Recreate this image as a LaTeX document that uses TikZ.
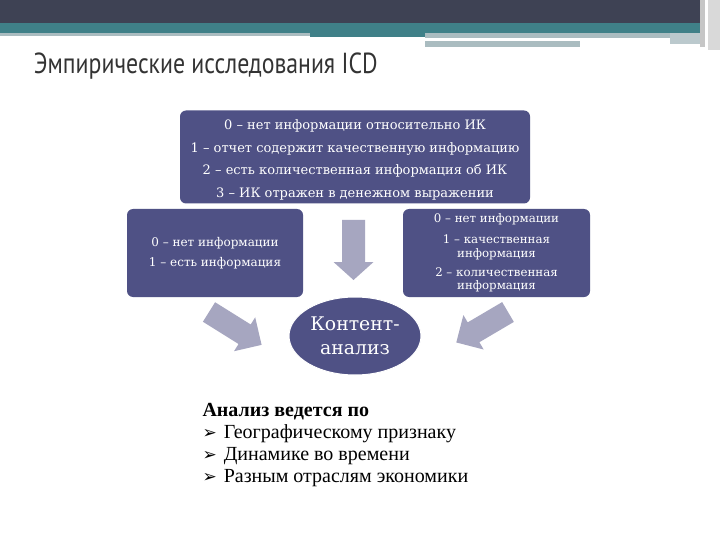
\documentclass[tikz,border=0pt]{standalone}
\usepackage{fontspec}
\setmainfont{Liberation Serif}
\newfontfamily\titlefont{PT Sans}
\newfontfamily\boxfont{DejaVu Serif}
\newfontfamily\symfont{DejaVu Sans}
\usetikzlibrary{shapes.geometric,positioning}

\definecolor{bandDark}{RGB}{62,66,84}
\definecolor{bandTeal}{RGB}{63,128,136}
\definecolor{bandGray}{RGB}{170,188,192}
\definecolor{boxBlue}{RGB}{79,81,133}
\definecolor{arrowGray}{RGB}{166,166,192}

\tikzset{
  infobox/.style={fill=boxBlue, rounded corners=6pt, text=white, align=center},
  boxtext/.style={text=white, align=center, inner sep=0pt},
  blockarrow/.style={fill=arrowGray, draw=none},
}

% block arrow of length #1 with head length #2, pointing along +x
\newcommand{\blockarrowpath}[2]{(0,-11.5) -- (#1-#2,-11.5) -- (#1-#2,-20) -- (#1,0)
  -- (#1-#2,20) -- (#1-#2,11.5) -- (0,11.5) -- cycle}
\newcommand{\listmark}{{\symfont\fontsize{17}{22}\selectfont ➢}\hspace{7pt}}

\begin{document}
\begin{tikzpicture}[x=1pt, y=-1pt]
  \useasboundingbox[fill=white] (0,0) rectangle (720,540);

  % header bands
  \fill[bandDark] (0,0) rectangle (705,23);
  \fill[bandTeal] (0,23) rectangle (705,33);
  \fill[bandTeal] (310,33) rectangle (705,37);
  \fill[bandGray] (0,33) rectangle (310,36);
  \fill[bandGray] (425,33) rectangle (670,38);
  \fill[bandGray] (425,41) rectangle (580,47);
  \fill[bandGray!80] (670,33) rectangle (705,44);
  \fill[gray!45] (700,0) rectangle (705,47);
  \fill[gray!30] (708,0) rectangle (720,50);

  % title
  \node[anchor=west, font=\titlefont\fontsize{29}{32}\selectfont, text=black!80, xscale=0.82]
    (title) at (31,66) {Эмпирические исследования ICD};

  % boxes
  \node[infobox, minimum width=350pt, minimum height=93pt] (scale4) at (355,157) {};
  \node[boxtext, font=\boxfont\fontsize{13}{22.8}\selectfont]
    (scale4text) at ([yshift=-3pt]scale4.center)
    {0 – нет информации относительно ИК\\
     1 – отчет содержит качественную информацию\\
     2 – есть количественная информация об ИК\\
     3 – ИК отражен в денежном выражении};
  \node[infobox, minimum width=176pt, minimum height=88pt,
    font=\boxfont\fontsize{12}{20}\selectfont] (scale2) at (215,253)
    {0 – нет информации\\ 1 – есть информация};
  \node[infobox, minimum width=187pt, minimum height=88pt,
    font=\boxfont\fontsize{11.8}{13.8}\selectfont] (scale3) at (496.5,253)
    {0 – нет информации\\[7pt] 1 – качественная\\ информация\\[5pt]
     2 – количественная\\ информация};

  % content analysis
  \node[ellipse, fill=boxBlue, draw=white, line width=1pt, minimum width=132pt,
    minimum height=78pt, text=white, align=center, inner sep=0pt,
    font=\boxfont\fontsize{18.8}{24}\selectfont] (content) at (355,336)
    {Контент-\\ анализ};

  % block arrows
  \fill[blockarrow, shift={(353.5,220)}, rotate=-90] \blockarrowpath{60}{18};
  \fill[blockarrow, shift={(209,312)}, rotate=-32] \blockarrowpath{62}{20};
  \fill[blockarrow, shift={(508,312)}, rotate=-149.5] \blockarrowpath{60}{20};

  % bottom list
  \node[anchor=north west, align=left, font=\fontsize{20}{22}\selectfont]
    (criteria) at (199,400)
    {\textbf{Анализ ведется по}\\
     \listmark Географическому признаку\\
     \listmark Динамике во времени\\
     \listmark Разным отраслям экономики};
\end{tikzpicture}
\end{document}
